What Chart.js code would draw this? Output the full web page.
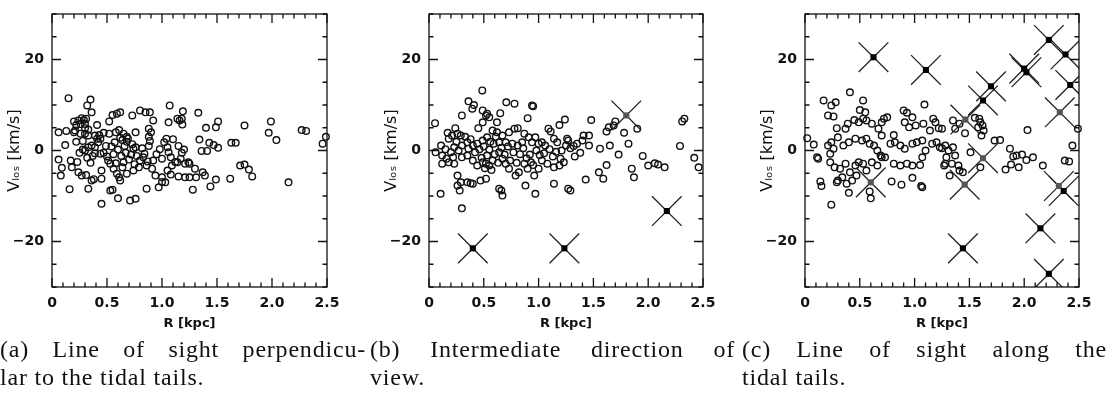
<!DOCTYPE html>
<html>
<head>
<meta charset="utf-8">
<script src="https://cdn.jsdelivr.net/npm/chart.js@4/dist/chart.umd.min.js"></script>
<style>
  html, body { margin: 0; padding: 0; background: #fff; }
  body { width: 1107px; height: 397px; position: relative; overflow: hidden; }
  canvas { position: absolute; top: 0; }
  .cap { position: absolute; font-family: 'Liberation Serif', 'Times New Roman', serif; font-size: 24px; letter-spacing: 0.8px; line-height: 28px; color: #111; }
  .cap .j { text-align: justify; text-align-last: justify; }
</style>
</head>
<body>
<canvas id="c1" width="341" height="337" style="left:0px"></canvas>
<canvas id="c2" width="340" height="337" style="left:377px"></canvas>
<canvas id="c3" width="340" height="337" style="left:753px"></canvas>

<div class="cap" style="left:0px; top:335px; width:366px">
  <div class="j">(a) Line of sight perpendicu-</div>
  <div>lar to the tidal tails.</div>
</div>
<div class="cap" style="left:370px; top:335px; width:365px">
  <div class="j">(b) Intermediate direction of</div>
  <div>view.</div>
</div>
<div class="cap" style="left:742px; top:335px; width:365px">
  <div class="j">(c) Line of sight along the</div>
  <div>tidal tails.</div>
</div>

<script>
// axis setup
const xTickVals = [0, 0.5, 1, 1.5, 2, 2.5];
const yTickVals = [-20, 0, 20];

// (a) perpendicular view: stars [R, v]
const starsA = [
  [0.15,11.5],[0.35,11.2],[0.32,9.9],[0.36,8.4],
  [0.06,4.0],[0.13,4.3],[0.20,4.0],[0.21,4.4],
  [0.24,6.6],[0.26,5.8],[0.22,5.6],[0.30,5.8],[0.30,4.9],[0.33,4.6],[0.20,6.4],[0.41,5.6],
  [0.27,7.1],[0.29,6.7],[0.31,7.0],
  [0.26,3.7],[0.30,3.7],[0.33,3.3],[0.39,3.3],[0.41,2.6],[0.43,3.4],
  [0.52,6.4],[0.55,7.8],[0.59,8.1],[0.62,8.4],[0.73,7.7],
  [0.80,8.8],[0.85,8.4],[0.89,8.4],[0.92,6.6],
  [1.07,9.9],[1.06,6.2],[1.14,7.0],[1.18,7.0],[1.19,8.6],[1.16,6.6],[1.185,5.7],
  [0.76,4.0],[0.88,4.8],[0.90,4.0],[0.88,3.0],[0.89,2.1],
  [0.47,3.9],[0.52,3.7],[0.58,4.0],[0.61,4.5],[0.65,3.7],[0.68,3.0],
  [0.64,2.3],[0.68,1.9],[0.73,1.4],[0.74,0.4],[0.76,0.7],
  [1.33,8.3],[1.40,5.0],[1.49,5.1],[1.51,6.4],[1.75,5.5],[1.99,6.4],[1.97,3.9],[2.04,2.3],
  [2.27,4.5],[2.31,4.3],[2.46,1.5],[2.49,3.0],
  [1.34,2.4],[1.36,-0.1],[1.41,-0.1],[1.43,1.7],[1.47,1.2],[1.51,0.6],[1.63,1.7],[1.67,1.7],
  [1.71,-3.3],[1.75,-3.1],[1.79,-4.2],[1.82,-5.7],[1.62,-6.2],[1.49,-6.4],[1.44,-7.9],[1.28,-8.6],[2.15,-7.0],
  [1.25,-2.9],[1.30,-4.0],[1.31,-5.9],[1.37,-4.8],[1.39,-5.5],[1.25,-5.9],
  [0.06,-2.0],[0.09,-3.8],[0.08,-5.5],[0.12,1.2],
  [0.17,-2.2],[0.23,-2.5],[0.18,-3.7],[0.24,-4.8],[0.27,-5.5],[0.31,-5.4],[0.36,-6.6],[0.38,-6.3],
  [0.30,0.0],[0.33,0.7],[0.36,1.1],[0.39,0.7],[0.39,-0.6],[0.44,-0.7],
  [0.45,-4.4],[0.45,-6.2],[0.45,-11.7],[0.53,-8.8],[0.55,-8.6],[0.60,-10.5],[0.71,-11.0],[0.76,-10.6],
  [0.51,-2.2],[0.53,-2.9],[0.56,-4.0],[0.59,-5.1],[0.61,-5.9],[0.62,-6.6],[0.64,-3.7],[0.65,-2.6],
  [0.68,-5.1],[0.74,-4.4],[0.79,-3.7],[0.80,-2.2],[0.83,-1.5],[0.86,-3.3],
  [0.91,-4.0],[0.94,-5.5],[1.00,-5.9],[1.03,-7.0],[1.00,-6.9],[0.97,-8.1],[0.86,-8.4],
  [1.05,-4.4],[1.09,-3.3],[1.14,-2.6],[1.17,-1.8],[1.21,-2.9],[1.24,-2.6],
  [1.05,0.7],[1.06,-0.4],[1.08,-1.5],
  [0.22,1.9],[0.25,-0.5],[0.28,0.2],[0.28,2.1],[0.32,-1.6],[0.35,-2.7],[0.37,-1.2],[0.42,1.8],
  [0.44,2.6],[0.47,-0.5],[0.49,1.0],[0.50,-1.3],[0.54,0.9],[0.56,-0.8],[0.57,1.8],[0.58,-2.8],
  [0.60,0.2],[0.62,2.8],[0.63,-1.2],[0.66,1.0],[0.67,-0.5],[0.69,2.6],[0.70,-2.0],[0.72,-0.9],
  [0.75,-3.0],[0.77,-1.2],[0.82,0.5],[0.84,-0.7],[0.87,-2.4],[0.88,1.0],[0.92,-2.2],[0.95,-0.8],
  [0.98,0.3],[1.00,-1.8],[1.02,1.8],[1.04,2.6],[1.10,2.5],[1.12,-2.5],[1.15,1.0],[1.18,-0.5],[1.20,0.2],
  [0.16,-8.5],[0.33,-8.4],[1.08,-5.3],[1.15,-5.7],[1.21,-5.9]
];
const crossesA = [];
const dimCrossesA = [];

// (b) intermediate view
const starsB = [
  [0.486,13.2],[0.36,10.8],[0.395,9.2],[0.41,10.0],[0.30,7.7],[0.705,10.6],[0.78,10.3],[0.94,9.9],[0.95,9.7],
  [0.49,8.8],[0.53,8.1],[0.55,7.3],[0.52,7.7],[0.65,8.2],[0.62,6.2],[0.90,7.1],[0.055,6.0],
  [0.45,4.9],[0.49,6.2],[0.24,4.9],[0.17,3.9],[0.21,3.3],[0.26,3.7],[0.29,3.3],[0.18,2.6],
  [1.24,6.8],[1.19,5.6],[1.09,4.8],[1.11,4.2],[1.26,2.6],[1.25,1.1],[0.97,2.9],[1.06,1.1],[1.14,2.6],[1.17,1.8],
  [0.58,4.4],[0.62,4.0],[0.67,3.3],[0.73,4.0],[0.78,4.8],[0.81,4.9],[0.87,3.7],[0.91,2.9],[0.94,1.8],
  [1.00,1.5],[1.03,1.8],[0.85,1.8],[0.81,1.1],[0.76,1.5],[0.70,1.8],[0.64,1.8],[0.59,1.5],[0.53,2.9],
  [0.49,2.2],[0.44,1.5],[0.40,1.1],[0.35,1.8],[0.30,1.1],[0.36,0.4],
  [0.06,-0.4],[0.11,1.1],[0.12,-1.1],[0.12,-2.9],[0.18,-2.6],[0.23,-2.9],[0.20,-0.4],[0.23,0.7],
  [0.27,0.0],[0.30,-1.5],[0.35,-1.1],[0.40,-2.2],[0.44,-3.3],[0.49,-2.6],[0.52,-2.9],[0.55,-3.3],
  [0.58,-2.2],[0.53,-1.1],[0.64,-0.4],[0.67,-1.8],[0.70,-2.9],[0.73,-4.0],[0.79,-5.5],[0.82,-4.8],
  [0.87,-2.9],[0.90,-4.0],[0.93,-2.6],[0.96,-5.5],[1.00,-4.0],[1.03,-2.2],[1.14,-3.7],[1.20,-1.8],[1.23,-2.6],
  [0.26,-5.5],[0.29,-7.0],[0.26,-7.7],[0.28,-8.8],[0.35,-7.0],[0.38,-7.2],[0.40,-7.3],[0.47,-6.6],[0.52,-6.2],
  [0.64,-8.4],[0.66,-8.8],[0.67,-9.9],[0.106,-9.5],[0.88,-7.7],[0.97,-9.5],[1.14,-7.3],[0.30,-12.7],
  [1.48,6.7],[1.62,4.2],[1.64,5.1],[1.685,5.5],[1.70,6.4],[1.78,3.9],[1.90,4.8],[1.82,1.5],[1.65,1.1],
  [1.73,-0.9],[1.56,0.4],[1.46,3.3],[1.41,3.3],[1.46,1.1],[1.40,2.2],[1.35,1.5],[1.32,1.0],[1.27,2.2],
  [1.29,0.5],[1.38,-0.5],[1.33,-1.3],[1.95,-1.2],[2.00,-3.3],[2.06,-2.8],[2.09,-3.1],[2.15,-3.7],
  [1.85,-4.0],[1.87,-5.9],[1.62,-3.2],[1.55,-4.8],[1.59,-6.2],[1.43,-6.4],[1.27,-8.4],[1.29,-8.8],
  [2.29,1.0],[2.31,6.4],[2.33,7.0],[2.42,-1.6],[2.46,-3.7],
  [0.15,0.3],[0.16,-1.8],[0.22,-1.5],[0.25,1.9],[0.33,3.0],[0.38,2.5],[0.42,-0.4],[0.46,0.3],[0.48,-1.6],
  [0.50,0.9],[0.51,-3.9],[0.55,0.2],[0.56,1.9],[0.57,-4.3],[0.60,-0.8],[0.61,3.0],[0.63,-2.7],[0.66,0.6],
  [0.69,-0.9],[0.72,0.9],[0.74,-2.2],[0.77,-0.4],[0.80,-2.7],[0.83,-0.8],[0.86,0.5],[0.89,-1.7],[0.92,-0.9],
  [0.95,-3.2],[0.98,0.0],[1.01,-1.0],[1.05,-0.6],[1.08,-2.9],[1.10,0.3],[1.13,-1.3],[1.16,-0.3],[1.19,-3.3],[1.21,0.0]
];
const crossesB = [[0.40,-21.5],[1.235,-21.5],[2.17,-13.3]];
const dimCrossesB = [[1.80,7.7]];

// (c) view along the tails
const starsC = [
  [0.41,12.8],[0.17,11.0],[0.24,9.9],[0.28,10.6],[0.21,7.7],[0.26,7.5],[0.53,11.0],[0.50,8.9],[0.55,8.4],
  [1.09,10.1],[0.90,8.8],[0.93,8.3],[0.98,7.3],[0.45,6.7],[0.49,6.2],[0.53,7.0],[0.56,6.6],[0.61,5.9],
  [0.70,6.2],[0.75,7.3],[0.72,7.0],[0.91,6.2],[0.95,5.1],[1.01,5.5],[1.08,5.9],[1.17,7.0],[1.19,6.2],
  [1.22,4.9],[1.14,4.4],[0.29,4.9],[0.37,4.8],[0.39,5.9],[0.67,4.8],[0.70,3.3],[0.81,3.4],[0.02,2.7],[0.08,1.3],
  [0.11,-1.5],[0.12,-1.8],[0.21,1.1],[0.23,-0.7],[0.24,1.8],[0.26,0.4],
  [0.30,2.9],[0.35,1.1],[0.40,1.8],[0.46,2.6],[0.52,2.2],[0.56,2.6],[0.59,1.5],[0.63,1.1],[0.66,0.0],[0.69,-1.1],[0.73,-1.5],
  [0.78,1.5],[0.82,1.8],[0.87,1.1],[0.91,0.4],[0.98,1.5],[1.02,1.8],[1.07,2.2],[1.10,0.0],[1.16,1.5],[1.20,1.8],[1.25,0.5],
  [0.23,-2.6],[0.27,-3.7],[0.32,-4.0],[0.37,-2.9],[0.41,-4.8],[0.46,-3.3],[0.49,-2.6],[0.53,-2.9],[0.56,-4.4],
  [0.61,-2.6],[0.66,-3.3],[0.70,-1.5],[0.81,-2.9],[0.87,-3.3],[0.93,-2.9],[0.98,-3.3],[1.05,-3.2],[1.07,-1.5],
  [0.30,-6.6],[0.29,-7.0],[0.34,-5.9],[0.38,-7.3],[0.43,-6.6],[0.47,-5.5],[0.14,-6.8],[0.15,-7.8],[0.40,-9.3],
  [0.59,-9.0],[0.60,-10.5],[0.79,-6.8],[0.88,-7.5],[0.98,-6.0],[1.06,-7.8],[1.07,-8.1],[0.24,-11.9],[1.27,-3.3],
  [1.25,4.8],[1.35,6.6],[1.37,4.8],[1.41,5.9],[1.46,3.8],[1.55,7.2],[1.59,7.0],[1.60,6.2],[1.62,5.5],[1.63,4.4],
  [1.61,3.3],[1.58,5.1],[1.73,2.2],[1.78,2.3],[2.03,4.5],[1.87,0.4],[1.90,-1.3],[1.93,-1.1],[1.98,-0.9],
  [2.02,-2.1],[2.08,-1.5],[1.83,-4.2],[1.88,-3.1],[1.95,-3.7],[2.17,-3.3],[2.37,-2.2],[2.41,-2.4],[2.44,1.1],[2.49,4.8],
  [1.23,0.7],[1.28,1.1],[1.31,0.0],[1.35,0.7],[1.37,-1.1],[1.29,-1.5],[1.28,-2.9],[1.34,-2.9],[1.40,-3.3],
  [1.41,-4.4],[1.44,-4.8],[1.32,-5.5],[1.51,-0.4],[1.60,-3.7]
];
const crossesC = [
  [0.625,20.5],[1.103,17.7],[1.624,11.0],[1.697,14.1],[2.00,18.0],[2.02,17.2],[2.225,24.3],[2.377,21.1],
  [2.42,14.4],[2.36,-8.9],[2.148,-17.1],[1.441,-21.5],[2.225,-27.1]
];
const dimCrossesC = [[1.463,6.8],[2.325,8.4],[1.624,-1.7],[1.457,-7.5],[2.316,-7.8],[0.60,-7.0]];

// frame with inward ticks on all four sides
const frameTicks = {
  id: 'frameTicks',
  afterDatasetsDraw(chart) {
    const { ctx, chartArea: a, scales: { x, y } } = chart;
    ctx.save();
    ctx.strokeStyle = '#111';
    ctx.lineWidth = 1.3;
    ctx.strokeRect(a.left, a.top, a.right - a.left, a.bottom - a.top);
    ctx.beginPath();
    for (let i = 0; i <= 25; i++) {
      const px = x.getPixelForValue(i / 10);
      const len = i % 5 === 0 ? 9 : 4.5;
      ctx.moveTo(px, a.bottom); ctx.lineTo(px, a.bottom - len);
      ctx.moveTo(px, a.top); ctx.lineTo(px, a.top + len);
    }
    for (let v = -30; v <= 30; v += 5) {
      const py = y.getPixelForValue(v);
      const len = v % 20 === 0 ? 9 : 4.5;
      ctx.moveTo(a.left, py); ctx.lineTo(a.left + len, py);
      ctx.moveTo(a.right, py); ctx.lineTo(a.right - len, py);
    }
    ctx.stroke();
    ctx.restore();
  }
};

const tickFont = { family: 'DejaVu Sans', size: 14, weight: 'bold' };
const titleFont = { family: 'DejaVu Sans', size: 13, weight: 'bold' };

function toPts(list) {
  return list.map(p => ({ x: p[0], y: p[1] }));
}

function makePanel(id, stars, crosses, dimCrosses) {
  const ctx = document.getElementById(id).getContext('2d');
  return new Chart(ctx, {
    type: 'scatter',
    data: {
      datasets: [
        { data: toPts(crosses), pointStyle: 'rect', pointRadius: 4.3, borderWidth: 0, backgroundColor: '#000', clip: 0 },
        { data: toPts(dimCrosses), pointStyle: 'rect', pointRadius: 4.3, borderWidth: 0, backgroundColor: '#555', clip: 0 },
        { data: toPts(crosses.concat(dimCrosses)), pointStyle: 'crossRot', pointRadius: 21, borderWidth: 1.3, borderColor: '#222', clip: 0 },
        { data: toPts(stars), pointStyle: 'circle', pointRadius: 3.3, borderWidth: 1.4, borderColor: '#111', backgroundColor: 'rgba(0,0,0,0)', clip: 4 }
      ]
    },
    options: {
      responsive: false,
      animation: false,
      devicePixelRatio: 1,
      events: [],
      layout: { autoPadding: false, padding: { left: 0, right: 14, top: 14, bottom: 0 } },
      plugins: { legend: { display: false }, tooltip: { enabled: false } },
      scales: {
        x: {
          type: 'linear', min: 0, max: 2.5,
          grid: { display: false, drawTicks: false },
          border: { display: false },
          afterBuildTicks: s => { s.ticks = xTickVals.map(v => ({ value: v })); },
          afterFit: s => { s.height = 50; s.paddingLeft = 0; s.paddingRight = 0; },
          ticks: { padding: 8, color: '#111', font: tickFont, maxRotation: 0, autoSkip: false },
          title: { display: true, text: 'R [kpc]', color: '#111', font: titleFont, padding: { top: 0, bottom: 6 } }
        },
        y: {
          type: 'linear', min: -30, max: 30,
          grid: { display: false, drawTicks: false },
          border: { display: false },
          afterBuildTicks: s => { s.ticks = yTickVals.map(v => ({ value: v })); },
          afterFit: s => { s.width = 52; s.paddingTop = 0; s.paddingBottom = 0; },
          ticks: {
            padding: 8, color: '#111', font: tickFont,
            callback: v => (v < 0 ? '\u2212' + Math.abs(v) : String(v))
          },
          title: {
            display: true, text: 'V\u2097\u2092\u209B [km/s]', color: '#111',
            font: { family: 'DejaVu Sans', size: 16 }, padding: { top: 5, bottom: 0 }
          }
        }
      }
    },
    plugins: [frameTicks]
  });
}

makePanel('c1', starsA, crossesA, dimCrossesA);
makePanel('c2', starsB, crossesB, dimCrossesB);
makePanel('c3', starsC, crossesC, dimCrossesC);
</script>
</body>
</html>
